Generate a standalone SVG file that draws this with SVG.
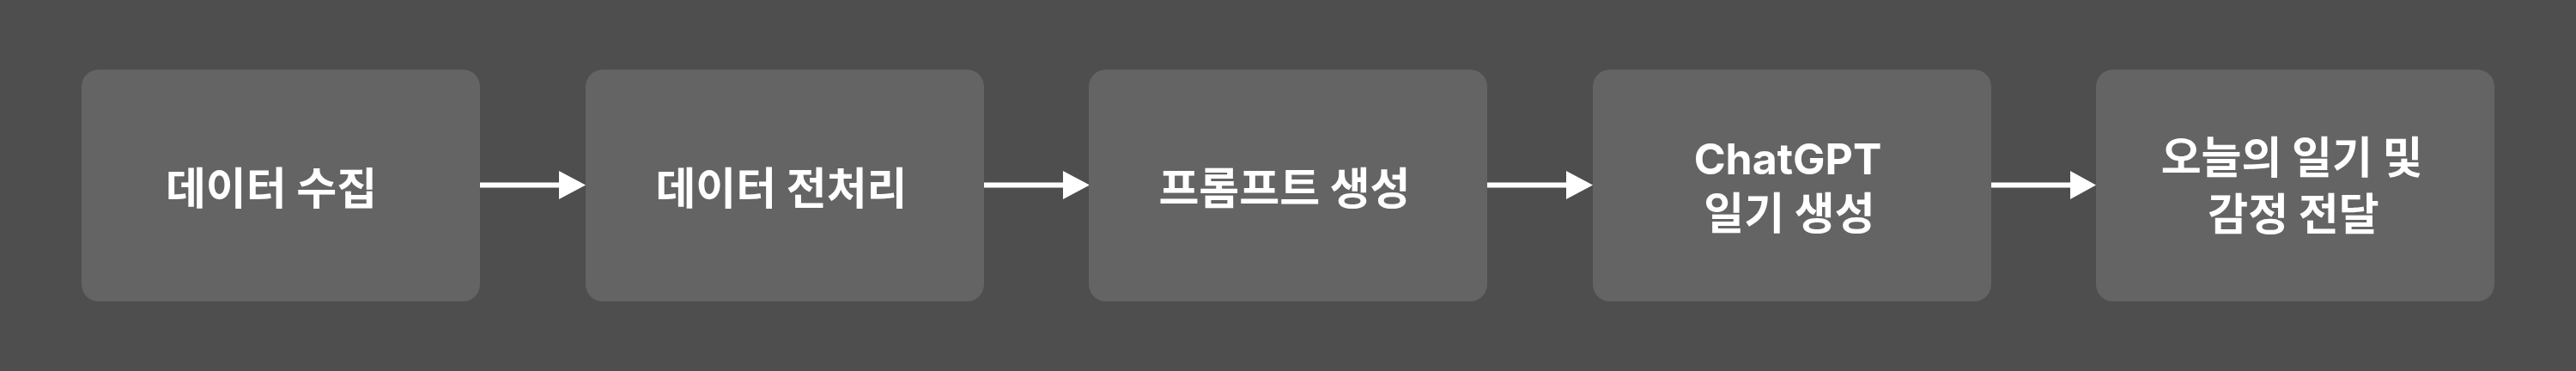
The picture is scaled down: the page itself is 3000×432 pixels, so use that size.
<svg xmlns="http://www.w3.org/2000/svg" width="3000" height="432" viewBox="0 0 3000 432">
  <style>
    .box { fill: #646464; }
    .lbl { fill: #ffffff; font-family: "Noto Sans CJK KR", "Noto Sans", "Liberation Sans", sans-serif; font-weight: 700; font-size: 51px; text-anchor: middle; }
    .lat { font-family: Inter, "Noto Sans CJK KR", "Liberation Sans", sans-serif; font-size: 50px; }
    .line { stroke: #ffffff; stroke-width: 6; fill: none; }
    .head { fill: #ffffff; }
  </style>
  <rect x="0" y="0" width="3000" height="432" fill="#4e4e4e"/>
  <g id="connectors">
    <g id="c1"><line class="line" x1="559" y1="215.5" x2="652" y2="215.5"/><polygon class="head" points="651,199 682,215.5 651,232"/></g>
    <g id="c2"><line class="line" x1="1146" y1="215.5" x2="1239" y2="215.5"/><polygon class="head" points="1238,199 1269,215.5 1238,232"/></g>
    <g id="c3"><line class="line" x1="1732" y1="215.5" x2="1825" y2="215.5"/><polygon class="head" points="1824,199 1855,215.5 1824,232"/></g>
    <g id="c4"><line class="line" x1="2319" y1="215.5" x2="2412" y2="215.5"/><polygon class="head" points="2411,199 2441,215.5 2411,232"/></g>
  </g>
  <g id="n1"><rect class="box" x="95" y="81" width="464" height="270" rx="20"/><text class="lbl" x="316" y="238">데이터 수집</text></g>
  <g id="n2"><rect class="box" x="682" y="81" width="464" height="270" rx="20"/><text class="lbl" x="910" y="238">데이터 전처리</text></g>
  <g id="n3"><rect class="box" x="1268" y="81" width="464" height="270" rx="20"/><text class="lbl" x="1496" y="238">프롬프트 생성</text></g>
  <g id="n4"><rect class="box" x="1855" y="81" width="464" height="270" rx="20"/><text class="lbl"><tspan class="lat" x="2082" y="203">ChatGPT</tspan><tspan x="2084" y="267">일기 생성</tspan></text></g>
  <g id="n5"><rect class="box" x="2441" y="81" width="464" height="270" rx="20"/><text class="lbl"><tspan x="2669" y="202">오늘의 일기 및</tspan><tspan x="2671" y="268">감정 전달</tspan></text></g>
</svg>
